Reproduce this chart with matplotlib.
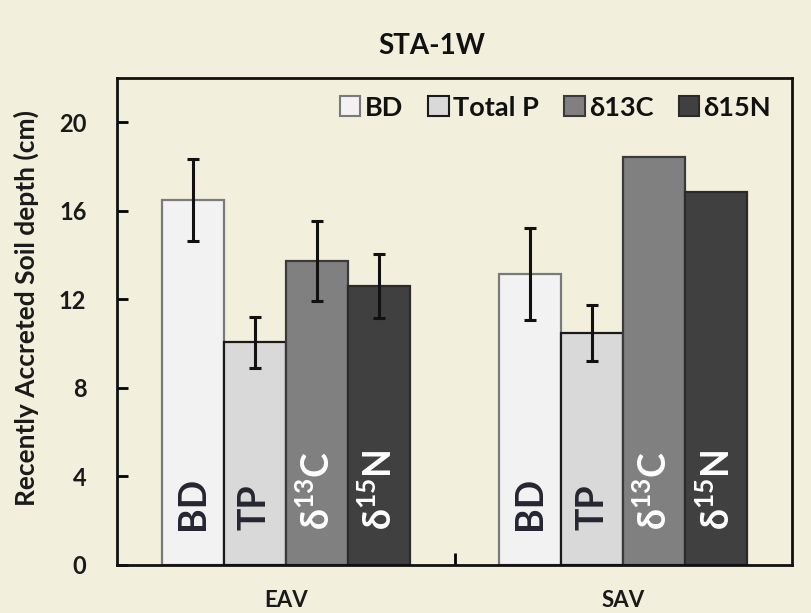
import matplotlib
matplotlib.use("Agg")
import matplotlib.pyplot as plt
from matplotlib.patches import Patch
import numpy as np

plt.rcParams['font.family'] = ['Lato', 'DejaVu Sans']
plt.rcParams['font.weight'] = 'bold'
plt.rcParams['mathtext.fontset'] = 'custom'
plt.rcParams['mathtext.rm'] = 'Lato:bold'
plt.rcParams['mathtext.bf'] = 'Lato:bold'

# Data
groups = ["EAV", "SAV"]
series = ["BD", "Total P", "δ13C", "δ15N"]
bar_tags = ["BD", "TP", "δ$^{13}$C", "δ$^{15}$N"]
values = {
    "BD":      [16.5, 13.15],
    "Total P": [10.07, 10.48],
    "δ13C":    [13.74, 18.41],
    "δ15N":    [12.6, 16.87],
}
errors = {
    "BD":      [1.86, 2.08],
    "Total P": [1.15, 1.25],
    "δ13C":    [1.81, 0.0],
    "δ15N":    [1.45, 0.0],
}
y_ticks = [0, 4, 8, 12, 16, 20]

fills = ["#f2f2f2", "#d9d9d9", "#808080", "#404040"]
edges = ["#7a7a7a", "#1a1a1a", "#3a3a3a", "#2a2a2a"]
tag_colors = ["#262633", "#262633", "white", "white"]

bg = "#f2f0dc"
fig = plt.figure(figsize=(8.11, 6.13), dpi=100, facecolor=bg)
ax = fig.add_axes([117 / 811, 1 - 565 / 613, (792 - 117) / 811, (565 - 78) / 613])
ax.set_facecolor(bg)

width = 0.184
centers = np.array([0.5, 1.5])
offsets = (np.arange(4) - 1.5) * width

for i, s in enumerate(series):
    x = centers + offsets[i]
    ax.bar(x, values[s], width=width, color=fills[i], edgecolor=edges[i],
           linewidth=1.6, zorder=2)
    err = np.array(errors[s])
    mask = err > 0
    if mask.any():
        ax.errorbar(x[mask], np.array(values[s])[mask], yerr=err[mask], fmt='none',
                    ecolor='#111111', elinewidth=2.2, capsize=4.5, capthick=2.2,
                    zorder=3)
    for xi in x:
        ax.text(xi, 1.6, bar_tags[i], rotation=90, ha='center', va='bottom',
                fontsize=27, fontweight='bold', color=tag_colors[i], zorder=4)

ax.set_xlim(0, 2)
ax.set_ylim(0, 22)
ax.set_yticks(y_ticks)
ax.set_yticklabels([str(t) for t in y_ticks], fontsize=17, fontweight='bold',
                   color='#1a1a1a')
ax.tick_params(axis='y', direction='in', length=8, width=2, pad=22)
ax.set_xticks(centers)
ax.set_xticklabels(groups, fontsize=16, fontweight='bold', color='#1a1a1a')
ax.tick_params(axis='x', length=0, pad=18)
ax.set_xticks([1.0], minor=True)
ax.tick_params(axis='x', which='minor', direction='in', length=9, width=2)

for sp in ax.spines.values():
    sp.set_linewidth(2)
    sp.set_color('#111111')

fig.text(26 / 811, 1 - 308 / 613, "Recently Accreted Soil depth (cm)",
         rotation=90, ha='center', va='center', fontsize=19, fontweight='bold',
         color='#1a1a1a')

fig.text(432 / 811, 1 - 46 / 613, "STA-1W", ha='center', va='center',
         fontsize=20, fontweight='bold', color='#111111')

handles = [Patch(facecolor=fills[i], edgecolor=edges[i], linewidth=1.5) for i in range(4)]
leg = ax.legend(handles, series, ncol=4, loc='upper right', frameon=False,
                bbox_to_anchor=(0.995, 1.0), handlelength=0.75, handleheight=0.75,
                handletextpad=0.15, columnspacing=0.95, borderaxespad=0.25,
                prop={'weight': 'bold', 'size': 19.5})
for t in leg.get_texts():
    t.set_color('#111111')

fig.savefig("out.png", dpi=100, facecolor=bg)
